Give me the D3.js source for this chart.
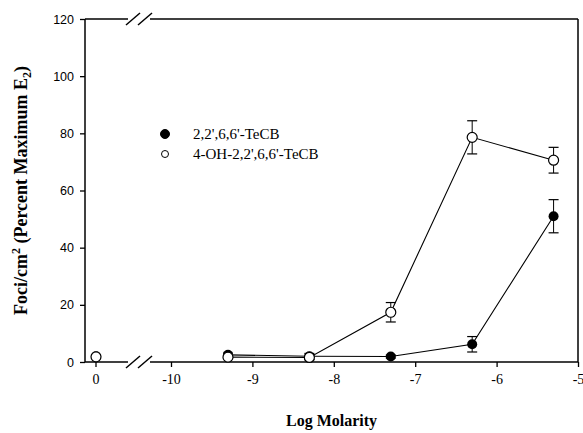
<!DOCTYPE html>
<html>
<head>
<meta charset="utf-8">
<script src="https://cdn.jsdelivr.net/npm/d3@7"></script>
<style>
  body { margin: 0; background: #fff; }
  svg { display: block; }
</style>
</head>
<body>
<div id="chart"></div>
<script>
// log molarity of each dose (control drawn at "0", left of the axis break)
var doses = [-9.3, -8.3, -7.3, -6.3, -5.3];
var controlX = 0;

var filledControl = { y: 2.0, err: 0.5 };
var openControl = { y: 1.8, err: 0.6 };

var filledVals = [2.5, 2.0, 1.9, 6.2, 51.0];
var filledErr = [0.6, 1.0, 0.5, 2.7, 5.8];
var openVals = [1.7, 1.6, 17.4, 78.6, 70.6];
var openErr = [0.5, 0.8, 3.4, 5.8, 4.5];

var xTicks = [-10, -9, -8, -7, -6, -5];
var yTicks = [0, 20, 40, 60, 80, 100, 120];
var legendNames = ["2,2',6,6'-TeCB", "4-OH-2,2',6,6'-TeCB"];

var W = 583, H = 433;
var mLeft = 85, mRight = 578, mTop = 19, mBottom = 362;
var breakL = 128, breakR = 150;

var svg = d3.select('#chart').append('svg')
    .attr('width', W)
    .attr('height', H);

var x = d3.scaleLinear().domain([-10, -5]).range([171, mRight]);
var y = d3.scaleLinear().domain([0, 120]).range([mBottom, mTop]);
var controlPx = 96;

var serif = "'Liberation Serif', 'Times New Roman', serif";
var sans = "'Liberation Sans', Arial, sans-serif";

// frame lines with the break gap
function hline(yy, x1, x2) {
  svg.append('line').attr('x1', x1).attr('x2', x2).attr('y1', yy).attr('y2', yy)
      .attr('stroke', '#000').attr('stroke-width', 1.5);
}
hline(mBottom, mLeft, breakL);
hline(mBottom, breakR, mRight);
hline(mTop, mLeft, breakL);
hline(mTop, breakR, mRight);
svg.append('line').attr('x1', mLeft).attr('x2', mLeft).attr('y1', mTop).attr('y2', mBottom)
    .attr('stroke', '#000').attr('stroke-width', 1.5);
svg.append('line').attr('x1', mRight).attr('x2', mRight).attr('y1', mTop).attr('y2', mBottom)
    .attr('stroke', '#000').attr('stroke-width', 1.5);

// break slashes
[mBottom, mTop].forEach(function(yy) {
  [breakL, breakR - 10].forEach(function(bx) {
    svg.append('line')
        .attr('x1', bx - 2).attr('y1', yy + 6)
        .attr('x2', bx + 12).attr('y2', yy - 6)
        .attr('stroke', '#000').attr('stroke-width', 1.5);
  });
});

// y axis
var yAxis = svg.append('g')
    .attr('transform', 'translate(' + mLeft + ',0)')
    .call(d3.axisLeft(y).tickValues(yTicks).tickSize(5).tickPadding(6));
yAxis.select('.domain').remove();
yAxis.selectAll('line').attr('stroke-width', 1.3);
yAxis.selectAll('text').attr('font-family', sans).attr('font-size', 12.5).attr('fill', '#000');

// x axis (log molarity part)
var xAxis = svg.append('g')
    .attr('transform', 'translate(0,' + mBottom + ')')
    .call(d3.axisBottom(x).tickValues(xTicks).tickSize(5).tickPadding(7)
        .tickFormat(function(d) { return String(d); }));
xAxis.select('.domain').remove();
xAxis.selectAll('line').attr('stroke-width', 1.3);
xAxis.selectAll('text').attr('font-family', serif).attr('font-size', 14).attr('fill', '#000');

// control tick
svg.append('line').attr('x1', controlPx).attr('x2', controlPx)
    .attr('y1', mBottom).attr('y2', mBottom + 5).attr('stroke', '#000').attr('stroke-width', 1.3);
svg.append('text').attr('x', controlPx).attr('y', mBottom + 5 + 7).attr('dy', '0.71em')
    .attr('text-anchor', 'middle').attr('font-family', serif).attr('font-size', 14)
    .text(controlX);

// lines
var line = d3.line().x(function(d) { return x(d[0]); }).y(function(d) { return y(d[1]); });
var openPts = doses.map(function(d, i) { return [d, openVals[i], openErr[i]]; });
var filledPts = doses.map(function(d, i) { return [d, filledVals[i], filledErr[i]]; });

svg.append('path').datum(filledPts).attr('d', line)
    .attr('fill', 'none').attr('stroke', '#000').attr('stroke-width', 1.1);
svg.append('path').datum(openPts).attr('d', line)
    .attr('fill', 'none').attr('stroke', '#000').attr('stroke-width', 1.1);

function errBars(pts, px) {
  svg.selectAll(null).data(pts).enter().append('g').each(function(d) {
    var g = d3.select(this);
    var cx = px(d);
    var y1 = y(d[1] + d[2]), y2 = y(d[1] - d[2]);
    g.append('line').attr('x1', cx).attr('x2', cx).attr('y1', y1).attr('y2', y2)
        .attr('stroke', '#000').attr('stroke-width', 1);
    [y1, y2].forEach(function(yy) {
      g.append('line').attr('x1', cx - 5).attr('x2', cx + 5).attr('y1', yy).attr('y2', yy)
          .attr('stroke', '#000').attr('stroke-width', 1.2);
    });
  });
}
var px = function(d) { return x(d[0]); };
var cpx = function() { return controlPx; };

errBars(filledPts, px);
errBars([[0, filledControl.y, filledControl.err]], cpx);
errBars(openPts, px);
errBars([[0, openControl.y, openControl.err]], cpx);

// filled markers first, open on top
svg.selectAll('.fdot').data(filledPts).enter().append('circle')
    .attr('cx', px).attr('cy', function(d) { return y(d[1]); })
    .attr('r', 5).attr('fill', '#000');
svg.append('circle').attr('cx', controlPx).attr('cy', y(filledControl.y))
    .attr('r', 5).attr('fill', '#000');

svg.selectAll('.odot').data(openPts).enter().append('circle')
    .attr('cx', px).attr('cy', function(d) { return y(d[1]); })
    .attr('r', 5).attr('fill', '#fff').attr('stroke', '#000').attr('stroke-width', 1.2);
svg.append('circle').attr('cx', controlPx).attr('cy', y(openControl.y))
    .attr('r', 5).attr('fill', '#fff').attr('stroke', '#000').attr('stroke-width', 1.2);

// legend
var legend = svg.append('g').attr('transform', 'translate(165,134)');
legendNames.forEach(function(name, i) {
  var ly = i * 20;
  legend.append('circle').attr('cx', 0).attr('cy', ly).attr('r', i === 0 ? 4.5 : 3.5)
      .attr('fill', i === 0 ? '#000' : '#fff')
      .attr('stroke', '#000').attr('stroke-width', 1);
  legend.append('text').attr('x', 28).attr('y', ly).attr('dy', '0.35em')
      .attr('font-family', serif).attr('font-size', 15).text(name);
});

// axis titles
svg.append('text')
    .attr('x', (mLeft + mRight) / 2).attr('y', 426)
    .attr('text-anchor', 'middle')
    .attr('font-family', serif).attr('font-size', 16).attr('font-weight', 'bold')
    .text('Log Molarity');

var yt = svg.append('text')
    .attr('transform', 'translate(27,' + (mTop + mBottom) / 2 + ') rotate(-90)')
    .attr('text-anchor', 'middle')
    .attr('font-family', serif).attr('font-size', 18).attr('font-weight', 'bold');
yt.append('tspan').text('Foci/cm');
yt.append('tspan').attr('dy', -7).attr('font-size', 12).text('2');
yt.append('tspan').attr('dy', 7).text(' (Percent Maximum E');
yt.append('tspan').attr('dy', 4).attr('font-size', 12).text('2');
yt.append('tspan').attr('dy', -4).text(')');
</script>
</body>
</html>
